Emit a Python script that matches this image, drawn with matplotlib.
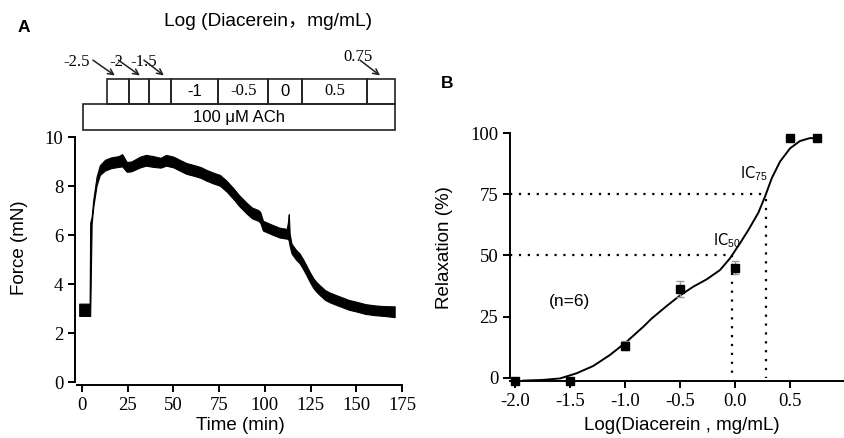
import matplotlib
matplotlib.use('Agg')
import matplotlib.pyplot as plt
import matplotlib.transforms as mtransforms
import numpy as np

SERIF = 'Liberation Serif'
SANS = 'Liberation Sans'
plt.rcParams['mathtext.fontset'] = 'custom'
plt.rcParams['mathtext.rm'] = SANS
plt.rcParams['mathtext.it'] = SANS

# ---- Panel A: force trace (band mid value and half width) ----
trace_t = [-1.5, 2, 4.2, 4.5, 5.3, 6.2, 8.0, 9.8, 12.6, 16, 20, 22, 24.5, 27, 31.8,
           35, 39, 43, 46, 50, 53.7, 57, 61, 65, 68, 72, 75.5, 79, 82.8, 86, 90, 93,
           96.4, 97.5, 99, 104.6, 108, 112, 112.7, 113.1, 113.6, 114.6, 117, 119, 121,
           122.8, 124.5, 126.4, 128, 130, 133, 135.6, 140, 146, 150, 155, 160, 165, 171]
trace_mid = [2.95, 2.95, 2.95, 4.6, 6.6, 7.3, 8.2, 8.65, 8.85, 8.95, 9.0, 9.05, 8.78, 8.8, 8.98,
             9.05, 9.0, 8.95, 9.05, 8.98, 8.84, 8.72, 8.64, 8.55, 8.44, 8.32, 8.23, 8.0, 7.69, 7.4, 7.1, 6.9,
             6.8, 6.72, 6.38, 6.2, 6.1, 6.05, 6.2, 6.3, 5.8, 5.45, 5.2, 5.05, 4.8,
             4.55, 4.3, 4.05, 3.9, 3.75, 3.55, 3.45, 3.32, 3.15, 3.08, 2.98, 2.93, 2.9, 2.87]
trace_half = [0.25, 0.25, 0.25, 1.9, 0.15, 0.15, 0.18, 0.2, 0.22, 0.22, 0.22, 0.25, 0.2, 0.2, 0.22,
              0.22, 0.22, 0.2, 0.22, 0.22, 0.22, 0.22, 0.22, 0.22, 0.22, 0.22, 0.22, 0.22, 0.22, 0.22, 0.22, 0.22,
              0.22, 0.22, 0.2, 0.2, 0.2, 0.2, 0.35, 0.55, 0.25, 0.2, 0.2, 0.2, 0.2,
              0.2, 0.2, 0.2, 0.2, 0.2, 0.2, 0.2, 0.2, 0.2, 0.2, 0.2, 0.2, 0.2, 0.22]

# dosing protocol boxes (edges in minutes)
dose_edges = [13.5, 25.9, 36.8, 48.5, 74.5, 101.9, 120.1, 156.0, 171.2]
dose_labels = ['', '', '', '-1', '-0.5', '0', '0.5', '']
dose_fonts = [SANS, SANS, SANS, SANS, SERIF, SANS, SERIF, SANS]
ach_span = [0.4, 171.2]
arrow_labels = ['-2.5', '-2', '-1.5', '0.75']
arrow_text_t = [-2.7, 18.6, 33.6, 151.0]
arrow_start_t = [6.0, 19.9, 33.9, 152.0]
arrow_tip_t = [18.0, 31.7, 44.8, 163.0]

# ---- Panel B: concentration-response ----
log_conc = [-2.0, -1.5, -1.0, -0.5, 0.0, 0.5, 0.75]
relax = [-1.2, -1.2, 13.0, 36.1, 45.0, 97.9, 97.9]
relax_err = [0, 0, 1.8, 3.3, 2.6, 0, 0]

fit_x = [-1.925, -1.743, -1.59, -1.44, -1.288, -1.136, -0.985, -0.834, -0.757, -0.621,
         -0.5, -0.379, -0.257, -0.136, -0.045, 0.045, 0.121, 0.212, 0.273, 0.334,
         0.409, 0.5, 0.59, 0.68, 0.75]
fit_y = [-1.2, -0.9, -0.3, 1.8, 4.8, 9.3, 14.7, 20.8, 24.2, 29.3,
         33.6, 37.2, 40.2, 44.0, 48.8, 54.9, 60.3, 67.4, 74.0, 81.5,
         88.3, 93.7, 96.7, 97.9, 97.9]

ic50 = -0.03
ic75 = 0.279

fig = plt.figure(figsize=(8.45, 4.38), dpi=100)

# ---------------- Panel A ----------------
axA = fig.add_axes([75 / 845, 53 / 438, 328.8 / 845, 248 / 438])
t = np.array(trace_t)
mid = np.array(trace_mid)
half = np.array(trace_half)
axA.fill_between(t, mid - half, mid + half, color='black', lw=0.8, edgecolor='black')
axA.set_xlim(-3.8, 176)
axA.set_ylim(-0.12, 10)
axA.spines['top'].set_visible(False)
axA.spines['right'].set_visible(False)
axA.spines['left'].set_bounds(0, 10)
axA.spines['bottom'].set_bounds(-2.5, 175)
for s in ('left', 'bottom'):
    axA.spines[s].set_linewidth(1.4)
axA.set_xticks(np.arange(0, 176, 25))
axA.set_yticks(np.arange(0, 11, 2))
axA.tick_params(width=1.4, length=5, labelsize=13.5)
for lab in axA.get_xticklabels() + axA.get_yticklabels():
    lab.set_family(SERIF)
axA.set_xlabel('Time (min)', family=SANS, fontsize=13.5)
axA.set_ylabel('Force (mN)', family=SANS, fontsize=13.5)
axA.xaxis.set_label_coords(0.502, -0.13)
axA.yaxis.set_label_coords(-0.143, 0.552)

# protocol boxes above the trace, x in minutes, y in axes fraction
trans = mtransforms.blended_transform_factory(axA.transData, axA.transAxes)
row_lo, row_hi = 1.133, 1.234
ach_lo = 1.028
for i in range(len(dose_labels)):
    x0, x1 = dose_edges[i], dose_edges[i + 1]
    axA.add_patch(plt.Rectangle((x0, row_lo), x1 - x0, row_hi - row_lo, transform=trans,
                                fill=False, lw=1.2, ec='#222222', clip_on=False))
    if dose_labels[i]:
        axA.text((x0 + x1) / 2, (row_lo + row_hi) / 2, dose_labels[i], transform=trans,
                 ha='center', va='center', fontsize=12, family=dose_fonts[i])
axA.add_patch(plt.Rectangle((ach_span[0], ach_lo), ach_span[1] - ach_span[0], row_lo - ach_lo,
                            transform=trans, fill=False, lw=1.2, ec='#222222', clip_on=False))
axA.text(sum(ach_span) / 2, (ach_lo + row_lo) / 2, '100 μM ACh', transform=trans,
         ha='center', va='center', fontsize=12, family=SANS)
for lab, tx, ts, tt in zip(arrow_labels, arrow_text_t, arrow_start_t, arrow_tip_t):
    ty = 1.324 if lab == '0.75' else 1.304
    axA.text(tx, ty, lab, transform=trans, ha='center', va='center', fontsize=12, family=SERIF)
    axA.annotate('', xy=(tt, 1.248), xytext=(ts, 1.31), xycoords=trans, textcoords=trans,
                 arrowprops=dict(arrowstyle='->', lw=1.1, color='#222222',
                                 mutation_scale=10, shrinkA=0, shrinkB=0),
                 annotation_clip=False)
fig.text(268 / 845, 1 - 21 / 438, 'Log (Diacerein，mg/mL)', ha='center', va='center',
         fontsize=13.8, family=[SANS, 'Noto Sans CJK SC'])
fig.text(24 / 845, 1 - 27 / 438, 'A', ha='center', va='center', fontsize=12.5,
         fontweight='bold', family=SANS)

# ---------------- Panel B ----------------
axB = fig.add_axes([510 / 845, 57 / 438, 335 / 845, 248 / 438])
axB.plot(fit_x, fit_y, color='black', lw=1.4, solid_joinstyle='round')
axB.errorbar(log_conc, relax, yerr=relax_err, fmt='none', ecolor='#999999', elinewidth=1,
             capsize=3, capthick=1)
axB.plot(log_conc, relax, 's', color='black', ms=5.5, clip_on=False, zorder=5)
axB.plot([-2.045, ic50], [50, 50], color='black', lw=1.6, ls=(0, (1, 3)))
axB.plot([ic50, ic50], [50, 0], color='black', lw=1.6, ls=(0, (1, 3)))
axB.plot([-2.045, ic75], [75, 75], color='black', lw=1.6, ls=(0, (1, 3)))
axB.plot([ic75, ic75], [73, 0], color='black', lw=1.6, ls=(0, (1, 3)))
axB.text(0.05, 52.2, r'IC$_{50}$', ha='right', va='bottom', fontsize=10.5)
axB.text(0.30, 79.5, r'IC$_{75}$', ha='right', va='bottom', fontsize=10.5)
axB.text(-1.5, 31, '(n=6)', ha='center', va='center', fontsize=12.5, family=SANS)
axB.set_xlim(-2.045, 1.0)
axB.set_ylim(-1.35, 100)
axB.spines['top'].set_visible(False)
axB.spines['right'].set_visible(False)
axB.spines['left'].set_bounds(0, 100)
for s in ('left', 'bottom'):
    axB.spines[s].set_linewidth(1.4)
axB.set_xticks([-2.0, -1.5, -1.0, -0.5, 0.0, 0.5])
axB.set_xticklabels(['-2.0', '-1.5', '-1.0', '-0.5', '0.0', '0.5'])
axB.set_yticks([0, 25, 50, 75, 100])
axB.tick_params(width=1.4, length=5, labelsize=13.5)
for lab in axB.get_xticklabels() + axB.get_yticklabels():
    lab.set_family(SERIF)
axB.set_xlabel('Log(Diacerein , mg/mL)', family=SANS, fontsize=13.5)
axB.set_ylabel('Relaxation (%)', family=SANS, fontsize=13.5)
axB.xaxis.set_label_coords(0.513, -0.145)
axB.yaxis.set_label_coords(-0.17, 0.54)
fig.text(447 / 845, 1 - 84 / 438, 'B', ha='center', va='center', fontsize=12.5,
         fontweight='bold', family=SANS)

fig.savefig('out.png', dpi=100)
plt.close(fig)
